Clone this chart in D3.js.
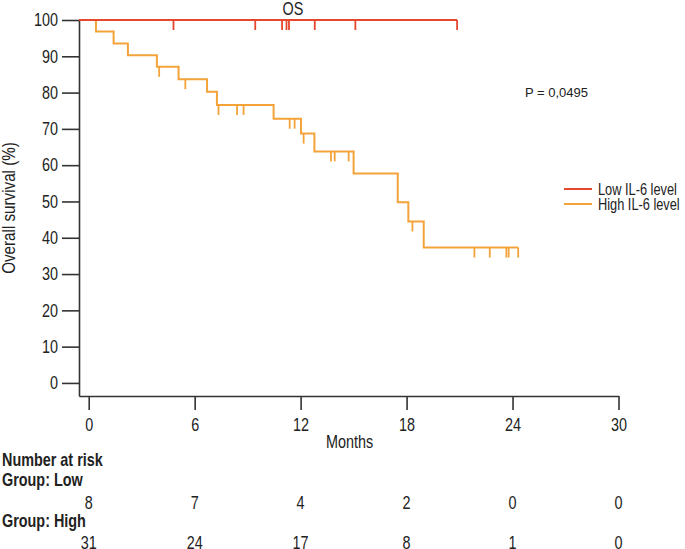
<!DOCTYPE html>
<html><head><meta charset="utf-8">
<script src="https://cdn.jsdelivr.net/npm/d3@7"></script>
<style>
body{margin:0;background:#fff;}
text{font-family:"Liberation Sans",Arial,sans-serif;fill:#222;}
</style></head>
<body><svg id="c" width="685" height="549"></svg>
<script>
const xTicks = [0, 6, 12, 18, 24, 30];
const yTicks = [0, 10, 20, 30, 40, 50, 60, 70, 80, 90, 100];
const lowCensor = [4.8, 9.43, 10.95, 11.2, 11.34, 12.8, 15.1, 20.86];
const lowEventTimes = [];
const lowSurvival = [];
const highEventTimes = [0.41, 1.41, 2.22, 3.86, 5.09, 6.70, 7.26, 10.47, 12.02, 12.78, 15.0, 17.5, 18.1, 18.97];
const highSurvival = [96.8, 93.5, 90.3, 87.1, 83.7, 80.2, 76.6, 72.8, 68.7, 63.8, 57.7, 49.8, 44.5, 37.3];
const highCensor = [3.99, 5.47, 7.35, 8.40, 8.77, 11.38, 11.66, 12.17, 13.72, 13.93, 14.72, 18.33, 21.84, 22.71, 23.65, 23.78, 24.32];
const riskLow = [8, 7, 4, 2, 0, 0];
const riskHigh = [31, 24, 17, 8, 1, 0];
const groups = ["Low IL-6 level", "High IL-6 level"];
const colors = ["#e5472f", "#f3a33a"];
const SX = 0.8; // horizontal condensing to mimic a narrow typeface

const svg = d3.select("#c");
const x = d3.scaleLinear().domain([-0.55, 30]).range([79, 618.5]);
const y = d3.scaleLinear().domain([-3.6, 100]).range([396, 20]);

function label(parent, px, py, str, size, anchor, weight, rot) {
  return parent.append("text")
    .attr("transform", `translate(${px},${py})${rot ? " rotate(" + rot + ")" : ""} scale(${SX},1)`)
    .attr("text-anchor", anchor || "start")
    .attr("font-size", size)
    .attr("font-weight", weight || "normal")
    .text(str);
}

// axes
const ya = svg.append("g").attr("transform", "translate(79,0)")
  .call(d3.axisLeft(y).tickValues(yTicks).tickSize(17).tickPadding(4).tickSizeOuter(0));
const xa = svg.append("g").attr("transform", "translate(0,396)")
  .call(d3.axisBottom(x).tickValues(xTicks).tickSize(14).tickPadding(8).tickSizeOuter(0));
[ya, xa].forEach(g => {
  g.selectAll("path,line").attr("stroke", "#333").attr("stroke-width", 1.6);
  g.selectAll("text").attr("font-size", 18).attr("fill", "#222")
    .style("font-family", '"Liberation Sans",Arial,sans-serif')
    .attr("transform", `scale(${SX},1)`);
});
ya.selectAll(".tick text").attr("x", -21 / SX);

function survAt(times, vals, t) {
  let s = 100;
  for (let i = 0; i < times.length; i++) if (times[i] <= t) s = vals[i];
  return s;
}
function stepPts(times, vals, end) {
  const pts = [[x.domain()[0], 100]];
  let s = 100;
  times.forEach((t, i) => { pts.push([t, s]); s = vals[i]; pts.push([t, s]); });
  pts.push([end, s]);
  return pts;
}
const line = d3.line().x(d => x(d[0])).y(d => y(d[1]));

const curves = [
  {times: highEventTimes, vals: highSurvival, cens: highCensor, color: colors[1]},
  {times: lowEventTimes, vals: lowSurvival, cens: lowCensor, color: colors[0]}
];
curves.forEach(c => {
  const end = d3.max(c.cens.concat(c.times));
  svg.append("path").datum(stepPts(c.times, c.vals, end))
    .attr("d", line).attr("fill", "none").attr("stroke", c.color).attr("stroke-width", 2);
  svg.append("g").selectAll("line").data(c.cens).join("line")
    .attr("x1", d => x(d)).attr("x2", d => x(d))
    .attr("y1", d => y(survAt(c.times, c.vals, d)))
    .attr("y2", d => y(survAt(c.times, c.vals, d)) + 10)
    .attr("stroke", c.color).attr("stroke-width", 1.8);
});

// titles
label(svg, 293, 15, "OS", 18, "middle");
label(svg, x(12) + 49, 448, "Months", 18, "middle");
label(svg, 15, 208, "Overall survival (%)", 19, "middle", "normal", -90);
svg.append("text").attr("x", 525).attr("y", 97).attr("font-size", 13).text("P = 0,0495");

// legend
const lg = svg.append("g");
groups.forEach((g, i) => {
  const yy = 189 + i * 15;
  lg.append("line").attr("x1", 564).attr("x2", 592).attr("y1", yy).attr("y2", yy)
    .attr("stroke", colors[i]).attr("stroke-width", 2);
  label(lg, 598, yy + 5.5, g, 16, "start");
});

// risk table
label(svg, 2, 466, "Number at risk", 18, "start", "bold");
label(svg, 2, 486, "Group: Low", 18, "start", "bold");
label(svg, 2, 527, "Group: High", 18, "start", "bold");
riskLow.forEach((d, i) => label(svg, x(xTicks[i]), 509, d, 18, "middle"));
riskHigh.forEach((d, i) => label(svg, x(xTicks[i]), 549, d, 18, "middle"));
</script></body></html>
